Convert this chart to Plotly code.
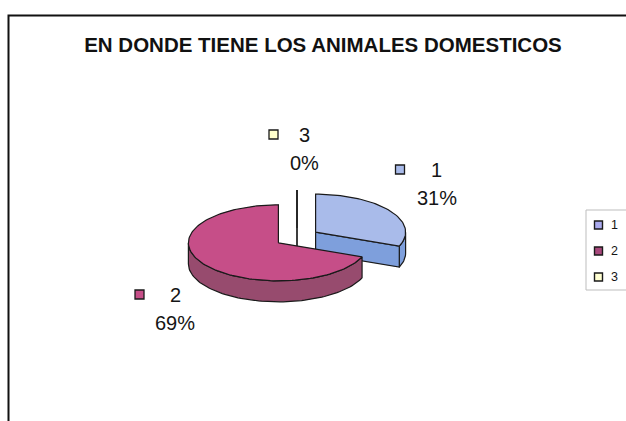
import numpy as np
import plotly.graph_objects as go

# ---- data -------------------------------------------------------------
categories = ["1", "2", "3"]
values = [31, 69, 0]          # percent of respondents

# ---- styling ------------------------------------------------------------
W, H = 626, 421
top_colors = ["#A9BBEA", "#C64E88", "#FFFFCC"]
side_colors = ["#7E9FDC", "#974B6E", "#D8D8A8"]
legend_colors = ["#AAAAEE", "#A8487C", "#FFFFD2"]
edge = "#1A1A1A"
FONT = "Liberation Sans, Arial, sans-serif"

# 3-D pie geometry (pixel space of the drawing area)
CX, CY = 297.0, 237.5      # pie centre
RX, RY = 90.0, 38.0        # ellipse radii of the top face
DEPTH = 21.0               # extrusion height
EXPLODE = 0.25             # slice pull, fraction of radius

# data-label anchors: (text centre x, first-line y, key x)
label_anchor = {
    "1": (436.5, 169.5, 400.0),
    "2": (175.0, 294.5, 139.5),
    "3": (304.5, 134.5, 273.5),
}
LINE_GAP = 28.0

total = float(sum(values))
fracs = [v / total for v in values]


def pt(cx, cy, a_deg, dy=0.0):
    a = np.radians(a_deg)
    return cx + RX * np.sin(a), cy - RY * np.cos(a) + dy


def arc(cx, cy, a0, a1, dy=0.0, n=None):
    if n is None:
        n = max(2, int(abs(a1 - a0) / 2) + 2)
    ang = np.linspace(a0, a1, n)
    xs, ys = pt(cx, cy, ang, dy)
    return list(xs), list(ys)


fig = go.Figure()

# slice angles (clockwise from 12 o'clock)
slices = []
start = 0.0
for i, f in enumerate(fracs):
    a0, a1 = start, start + 360.0 * f
    start = a1
    if f == 0:
        a0 = a1 = 360.0
    mid = (a0 + a1) / 2.0
    m = np.radians(mid)
    cx = CX + EXPLODE * RX * np.sin(m)
    cy = CY - EXPLODE * RY * np.cos(m)
    slices.append(dict(i=i, a0=a0, a1=a1, cx=cx, cy=cy))

# paint back-to-front
for s in sorted(slices, key=lambda d: d["cy"]):
    i, a0, a1, cx, cy = s["i"], s["a0"], s["a1"], s["cx"], s["cy"]
    polys = []
    # curved outer wall, front half only
    lo, hi = max(a0, 90.0), min(a1, 270.0)
    if hi > lo:
        tx, ty = arc(cx, cy, lo, hi)
        bx, by = arc(cx, cy, hi, lo, DEPTH)
        polys.append((tx + bx + [tx[0]], ty + by + [ty[0]], side_colors[i]))
    # flat radial walls that face the viewer
    eps = 1e-6
    for a, visible in ((a0, np.sin(np.radians(a0)) <= eps),
                       (a1, np.sin(np.radians(a1)) >= -eps)):
        if visible:
            ex, ey = pt(cx, cy, a)
            xs = [cx, ex, ex, cx, cx]
            ys = [cy, ey, ey + DEPTH, cy + DEPTH, cy]
            polys.append((xs, ys, side_colors[i]))
    # top face
    ax, ay = arc(cx, cy, a0, a1) if a1 > a0 else ([pt(cx, cy, a0)[0]], [pt(cx, cy, a0)[1]])
    polys.append(([cx] + ax + [cx], [cy] + ay + [cy], top_colors[i]))

    for xs, ys, col in polys:
        fig.add_trace(go.Scatter(
            x=xs, y=ys, mode="lines", fill="toself", fillcolor=col,
            line=dict(color=edge, width=1.2), hoverinfo="skip", showlegend=False,
        ))

# data labels: legend key + category, percentage underneath
for i, cat in enumerate(categories):
    tx, ty, kx = label_anchor[cat]
    fig.add_trace(go.Scatter(
        x=[kx], y=[ty], mode="markers", hoverinfo="skip", showlegend=False,
        marker=dict(symbol="square", size=9, color=top_colors[i],
                    line=dict(color=edge, width=1.3)),
    ))
    fig.add_annotation(x=tx, y=ty, text=cat, showarrow=False,
                       font=dict(family=FONT, size=20, color="#151515"),
                       xanchor="center", yanchor="middle")
    fig.add_annotation(x=tx, y=ty + LINE_GAP, text=f"{fracs[i]:.0%}", showarrow=False,
                       font=dict(family=FONT, size=20, color="#151515"),
                       xanchor="center", yanchor="middle")

# legend box on the right
LEG_X, LEG_Y0, LEG_STEP = 598.5, 225.0, 26.0
for i, cat in enumerate(categories):
    y = LEG_Y0 + i * LEG_STEP
    fig.add_trace(go.Scatter(
        x=[LEG_X], y=[y], mode="markers", hoverinfo="skip", showlegend=False,
        marker=dict(symbol="square", size=8, color=legend_colors[i],
                    line=dict(color=edge, width=1.4)),
    ))
    fig.add_annotation(x=LEG_X + 10, y=y, text=cat, showarrow=False,
                       font=dict(family=FONT, size=12.5, color="#151515"),
                       xanchor="left", yanchor="middle")

shapes = [
    # chart frame
    dict(type="rect", xref="x", yref="y", x0=8.5, y0=15.5, x1=W + 20, y1=H + 20,
         line=dict(color="#111111", width=2), layer="below"),
    # legend frame
    dict(type="rect", xref="x", yref="y", x0=586, y0=210, x1=W + 10, y1=290,
         line=dict(color="#BDBDBD", width=1), layer="below"),
]

fig.update_layout(
    width=W, height=H,
    margin=dict(l=0, r=0, t=0, b=0),
    paper_bgcolor="white", plot_bgcolor="white",
    showlegend=False,
    shapes=shapes,
    xaxis=dict(range=[0, W], visible=False, fixedrange=True),
    yaxis=dict(range=[H, 0], visible=False, fixedrange=True),
    title=dict(text="<b>EN DONDE TIENE LOS ANIMALES DOMESTICOS</b>",
               x=323 / W, y=1 - 44.5 / H, xanchor="center", yanchor="middle",
               font=dict(family=FONT, size=20.5, color="#111111")),
)

fig.write_html("out.html")
